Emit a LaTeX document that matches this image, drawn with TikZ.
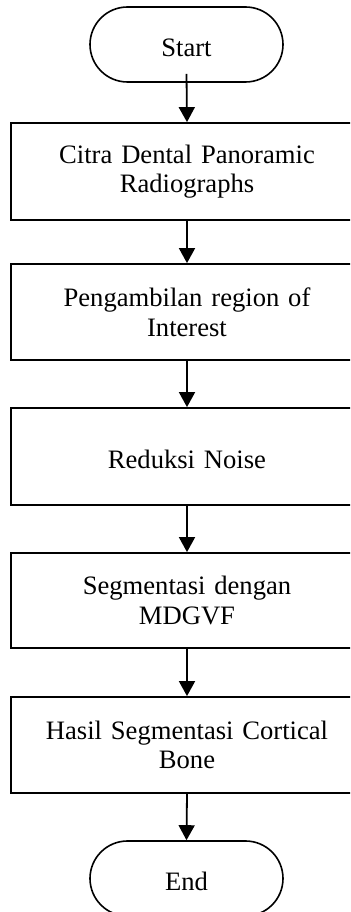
\documentclass[tikz,border=0pt]{standalone}
\usepackage{fontspec}
\setmainfont{Liberation Serif}
\usetikzlibrary{arrows.meta, shapes.misc, positioning}

\tikzset{
    procbox/.style={draw, line width=0.9pt, rectangle, minimum width=176pt,
        text width=160pt, align=center, inner sep=0pt},
    termbox/.style={draw, line width=0.8pt, rounded rectangle,
        minimum width=96.5pt, minimum height=37.5pt, inner sep=0pt,
        text height=12.5pt, text depth=0pt},
    flowarrow/.style={-{Triangle[length=7.5pt, width=8pt]}, line width=0.9pt}
}

\begin{document}
\begin{tikzpicture}[
    x=1pt, y=1pt,
    font=\fontsize{13.3pt}{14.8pt}\selectfont
]

% ============================================================
% Page frame (boxes run past the right edge)
% ============================================================
\path[use as bounding box, clip] (0,0) rectangle (175,456);

% ============================================================
% Terminals
% ============================================================
\node[termbox] (start) at (93.25,433.75) {Start};
\node[termbox] (end)   at (93.25,16.75)  {End};

% ============================================================
% Process steps
% ============================================================
\node[procbox, minimum height=48.5pt] (citra) at (93.5,370.25)
    {Citra Dental Panoramic\\ Radiographs};
\node[procbox, minimum height=48pt]   (roi)   at (93.5,300)
    {Pengambilan region of\\ Interest};
\node[procbox, minimum height=48.5pt, text height=12.5pt, text depth=0pt]
    (noise) at (93.5,227.75) {Reduksi Noise};
\node[procbox, minimum height=47.5pt] (segm)  at (93.5,155.75)
    {Segmentasi dengan\\ MDGVF};
\node[procbox, minimum height=48pt]   (hasil) at (93.5,83.5)
    {Hasil Segmentasi Cortical\\ Bone};

% ============================================================
% Flow
% ============================================================
\draw[flowarrow] ([yshift=4.5pt]start.south) -- (citra.north);
\draw[flowarrow] (citra.south) -- (roi.north);
\draw[flowarrow] (roi.south)   -- (noise.north);
\draw[flowarrow] (noise.south) -- (segm.north);
\draw[flowarrow] (segm.south)  -- (hasil.north);
\draw[flowarrow] (hasil.south) -- (end.north);

\end{tikzpicture}
\end{document}
